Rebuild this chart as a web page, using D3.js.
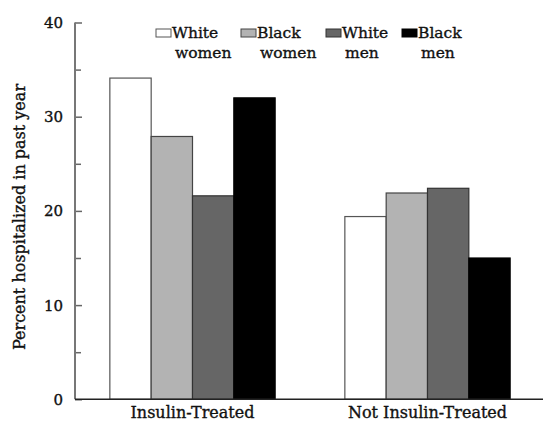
<!DOCTYPE html>
<html>
<head>
<meta charset="utf-8">
<script src="https://cdn.jsdelivr.net/npm/d3@7/dist/d3.min.js"></script>
<style>
  html, body { margin: 0; padding: 0; background: #fff; }
  svg { display: block; }
  text { font-family: "DejaVu Serif", "Liberation Serif", serif; fill: #111; stroke: #111; stroke-width: 0.35px; }
</style>
</head>
<body>
<svg id="chart" width="544" height="422"></svg>
<script>
// Hospitalization in the past year, by diabetes treatment and race/sex group
const groups = ["Insulin-Treated", "Not Insulin-Treated"];
const seriesNames = ["White women", "Black women", "White men", "Black men"];
const legendLines = [["White", "women"], ["Black", "women"], ["White", "men"], ["Black", "men"]];
const insulinTreated = [34.1, 27.9, 21.6, 32.0];
const notInsulinTreated = [19.4, 21.9, 22.4, 15.0];
const yTicks = [0, 10, 20, 30, 40];
const yMinorTicks = [5, 15, 25, 35];
const fills = ["#ffffff", "#b3b3b3", "#666666", "#000000"];
const strokes = ["#555555", "#444444", "#333333", "#000000"];

const values = [insulinTreated, notInsulinTreated];

const svg = d3.select("#chart");
const plotLeft = 75, plotRight = 543, plotTop = 22.5, plotBottom = 399.3;

const y = d3.scaleLinear().domain([0, 40]).range([plotBottom, plotTop]);
const x0 = d3.scaleBand().domain(groups).range([plotLeft, 545])
  .paddingInner(0.2966).paddingOuter(0.1483);
const x1 = d3.scaleBand().domain(seriesNames).range([0, x0.bandwidth()]);

// bars
const g = svg.append("g");
groups.forEach((grp, gi) => {
  g.append("g")
    .attr("transform", `translate(${x0(grp)},0)`)
    .selectAll("rect")
    .data(seriesNames.map((s, si) => ({ s, si, v: values[gi][si] })))
    .join("rect")
      .attr("x", d => x1(d.s))
      .attr("y", d => y(d.v))
      .attr("width", x1.bandwidth())
      .attr("height", d => y(0) - y(d.v))
      .attr("fill", d => fills[d.si])
      .attr("stroke", d => strokes[d.si])
      .attr("stroke-width", 1.2);
});

// y axis: ticks point inward
const yAxis = d3.axisRight(y).tickValues(yTicks).tickSize(7).tickFormat("");
const yAxisMinor = d3.axisRight(y).tickValues(yMinorTicks).tickSize(6).tickFormat("");
[yAxis, yAxisMinor].forEach(ax => {
  const a = svg.append("g").attr("transform", `translate(${plotLeft},0)`).call(ax);
  a.select(".domain").remove();
  a.selectAll("line").attr("stroke", "#666").attr("stroke-width", 1.5);
});
svg.append("line")
  .attr("x1", plotLeft).attr("x2", plotLeft)
  .attr("y1", y(40)).attr("y2", y(0))
  .attr("stroke", "#777").attr("stroke-width", 2);

svg.append("g").selectAll("text")
  .data(yTicks)
  .join("text")
    .attr("x", 63)
    .attr("y", d => y(d))
    .attr("dy", "0.36em")
    .attr("text-anchor", "end")
    .attr("font-size", 15)
    .text(d => d);

// x axis line
svg.append("line")
  .attr("x1", plotLeft).attr("x2", plotRight)
  .attr("y1", y(0)).attr("y2", y(0))
  .attr("stroke", "#222").attr("stroke-width", 1.5);

svg.append("g").selectAll("text")
  .data(groups)
  .join("text")
    .attr("x", d => x0(d) + x0.bandwidth() / 2)
    .attr("y", 418)
    .attr("text-anchor", "middle")
    .attr("font-size", 16)
    .text(d => d);

// y axis title
svg.append("text")
  .attr("transform", `translate(25,${217}) rotate(-90)`)
  .attr("text-anchor", "middle")
  .attr("font-size", 16)
  .text("Percent hospitalized in past year");

// legend
const legendX = [156, 241, 326, 402];
const lg = svg.append("g").selectAll("g")
  .data(seriesNames)
  .join("g")
    .attr("transform", (d, i) => `translate(${legendX[i]},0)`);
lg.append("rect")
  .attr("x", 0).attr("y", 29)
  .attr("width", 15).attr("height", 8)
  .attr("fill", (d, i) => fills[i])
  .attr("stroke", (d, i) => strokes[i])
  .attr("stroke-width", 1);
lg.append("text")
  .attr("x", 16).attr("y", 38)
  .attr("font-size", 15.5)
  .text((d, i) => legendLines[i][0]);
lg.append("text")
  .attr("x", 19).attr("y", 58)
  .attr("font-size", 15.5)
  .text((d, i) => legendLines[i][1]);
</script>
</body>
</html>
